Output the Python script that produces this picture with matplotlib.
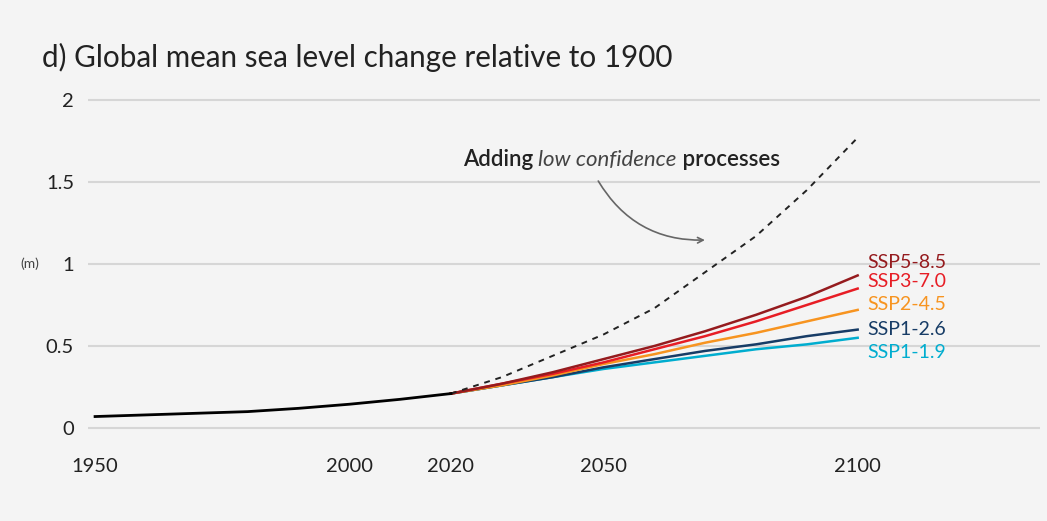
import numpy as np
import matplotlib.pyplot as plt

# historical global mean sea level relative to 1900 (m)
hist_years = [1950, 1960, 1970, 1980, 1990, 2000, 2010, 2020]
hist_vals = [0.07, 0.08, 0.09, 0.10, 0.12, 0.145, 0.175, 0.21]

# projections
proj_years = [2020, 2030, 2040, 2050, 2060, 2070, 2080, 2090, 2100]
ssp585 = [0.21, 0.27, 0.34, 0.42, 0.50, 0.59, 0.69, 0.80, 0.93]
ssp370 = [0.21, 0.27, 0.33, 0.40, 0.48, 0.56, 0.65, 0.75, 0.85]
ssp245 = [0.21, 0.26, 0.32, 0.39, 0.45, 0.52, 0.58, 0.65, 0.72]
ssp126 = [0.21, 0.26, 0.31, 0.37, 0.42, 0.47, 0.51, 0.56, 0.60]
ssp119 = [0.21, 0.26, 0.31, 0.36, 0.40, 0.44, 0.48, 0.51, 0.55]
low_conf = [0.21, 0.31, 0.44, 0.57, 0.73, 0.95, 1.17, 1.45, 1.77]

scenarios = ['SSP5-8.5', 'SSP3-7.0', 'SSP2-4.5', 'SSP1-2.6', 'SSP1-1.9']
scen_vals = [ssp585, ssp370, ssp245, ssp126, ssp119]
scen_colors = ['#951B1E', '#E71D25', '#F79420', '#173C66', '#00ADCF']
label_y = [1.01, 0.895, 0.75, 0.60, 0.46]

x_ticks = [1950, 2000, 2020, 2050, 2100]
y_ticks = [0, 0.5, 1, 1.5, 2]
y_ticklabels = ['0', '0.5', '1', '1.5', '2']

plt.rcParams['font.family'] = ['Lato', 'DejaVu Sans']

fig = plt.figure(figsize=(10.47, 5.21), dpi=100, facecolor='#f4f4f4')
ax = fig.add_axes([0.084, 0.169, 0.909, 0.655])
ax.set_facecolor('none')

ax.set_xlim(1948.6, 2135.8)
ax.set_ylim(-0.03, 2.05)

# gridlines
for yt in y_ticks:
    ax.axhline(yt, color='#d6d6d6', lw=1.5, zorder=0)

# lines, lowest scenario drawn first
for vals, col in zip(scen_vals[::-1], scen_colors[::-1]):
    ax.plot(proj_years, vals, color=col, lw=1.8, zorder=2)
ax.plot(proj_years, low_conf, color='#222222', lw=1.4, ls=(0, (3, 3)), zorder=3)
ax.plot(hist_years, hist_vals, color='black', lw=2, zorder=4)

# scenario labels
for name, col, ly in zip(scenarios, scen_colors, label_y):
    ax.text(2102, ly, name, color=col, fontsize=14, va='center', ha='left')

# annotation
ax.annotate('', xy=(2070.5, 1.146), xytext=(2048.7, 1.52),
            arrowprops=dict(arrowstyle='->', color='#666666', lw=1.2,
                            connectionstyle='arc3,rad=0.3'))
fs = 16
t1 = ax.text(2022.3, 1.635, 'Adding ', fontsize=fs, fontweight='semibold', va='center', ha='left', color='#222222')
fig.canvas.draw()
bb = t1.get_window_extent()
x1 = ax.transData.inverted().transform((bb.x1, bb.y0))[0]
t2 = ax.text(x1, 1.635, 'low confidence', fontsize=fs, style='italic', va='center', ha='left', color='#444444')
bb = t2.get_window_extent()
x2 = ax.transData.inverted().transform((bb.x1, bb.y0))[0]
ax.text(x2, 1.635, ' processes', fontsize=fs, fontweight='semibold', va='center', ha='left', color='#222222')

ax.set_xticks(x_ticks)
ax.set_xticklabels([str(x) for x in x_ticks])
ax.set_yticks(y_ticks)
ax.set_yticklabels(y_ticklabels)
ax.tick_params(axis='both', length=0, labelsize=14.5, colors='#222222')
ax.tick_params(axis='x', pad=18)
ax.tick_params(axis='y', pad=10)
for s in ax.spines.values():
    s.set_visible(False)

fig.text(0.019, 0.493, '(m)', fontsize=10, color='#444444', va='center')
fig.text(0.040, 0.89, 'd) Global mean sea level change relative to 1900', fontsize=21.3,
         color='#222222', va='center')

fig.savefig('out.png', dpi=100, facecolor=fig.get_facecolor())
